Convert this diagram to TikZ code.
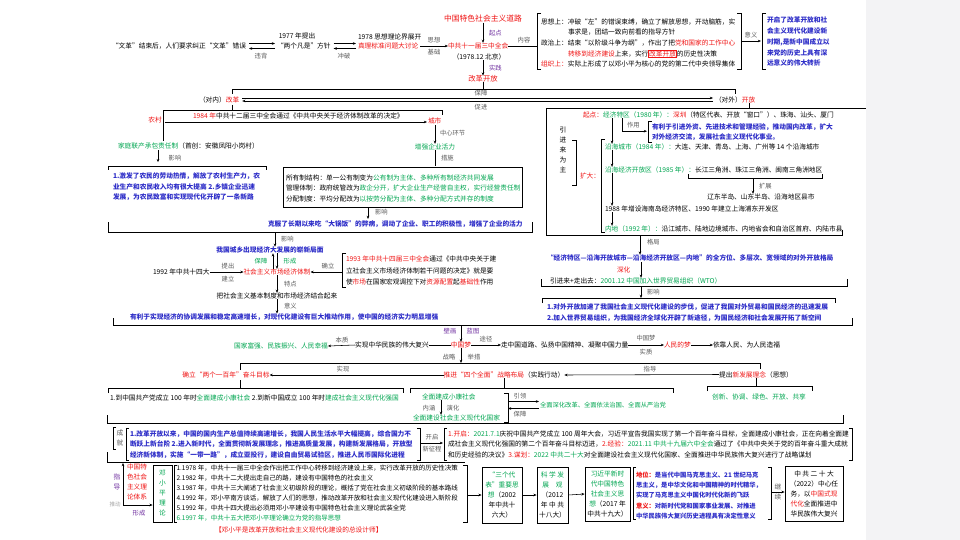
\documentclass[tikz,border=0pt]{standalone}
\usepackage{fontspec}
\setmainfont{Noto Sans CJK SC}
\usetikzlibrary{arrows.meta,calc}
\definecolor{cr}{HTML}{F01414}
\definecolor{cg}{HTML}{00A651}
\definecolor{cb}{HTML}{2D2DC8}
\definecolor{cp}{HTML}{7030A0}
\definecolor{cl}{HTML}{5A5A5A}
\definecolor{panel}{HTML}{F3F3F5}
\newcommand\fs{\fontsize{6.7}{8}\selectfont}
\newcommand\fsl{\fontsize{6.3}{7.5}\selectfont}
\newcommand\fsb{\fontsize{7.8}{9}\selectfont}
\newcommand\fsm{\fontsize{7.3}{8.5}\selectfont}
\newcommand\fsv{\fontsize{6.7}{10}\selectfont}
\newcommand\fss{\fontsize{6.3}{8}\selectfont}
\newcommand\fsq{\fontsize{6.5}{8}\selectfont}
\begin{document}
\begin{tikzpicture}[x=1pt,y=-1pt,
  base/.style={inner sep=0pt,outer sep=0pt,font=\fs},
  tx/.style={base,anchor=west},
  lb/.style={inner sep=0pt,outer sep=0pt,font=\fsl,text=cl},
  blu/.style={text=cb,font=\fs\bfseries},
  blusm/.style={text=cb,font=\fss\bfseries},
  arr/.style={-{Stealth[length=3.2pt,width=2.6pt]},line width=0.55pt},
  ln/.style={line width=0.55pt},
  brk/.style={line width=0.65pt},
  vbox/.style={draw,line width=0.8pt,inner sep=0pt,align=center,font=\fsv}]
\useasboundingbox (0,0) rectangle (960,540);
\fill[white] (0,0) rectangle (960,540);
\fill[panel] (866,0) rectangle (960,540);

% ---------------- row 1
\node[tx] (wg) at (112,46) {“文革”结束后，人们要求纠正“文革”错误};
\node[tx] (lg) at (277,46) {“两个凡是”方针};
\draw[arr] ($(wg.east)+(3,-2.5)$) -- ($(lg.west)+(-2,-2.5)$);
\draw[arr] ($(lg.west)+(-2,2.5)$) -- ($(wg.east)+(3,2.5)$);
\node[lb] (l1) at (261,56) {违背};
\node[base] (y77) at (297,36) {1977 年提出};
\node[tx] (y78) at (358,37) {1978 思想理论界展开};
\node[tx,text=cr] (zl) at (358,46) {真理标准问题大讨论};
\draw[arr] ($(lg.east)+(3,-2.5)$) -- ($(zl.west)+(-2,-2.5)$);
\draw[arr] ($(zl.west)+(-2,2.5)$) -- ($(lg.east)+(3,2.5)$);
\node[lb] (l2) at (344,56) {冲破};
\node[tx,text=cr] (sz) at (448,46) {中共十一届三中全会};
\draw[arr] ($(zl.east)+(2,0)$) -- (sz.west);
\node[lb] (l3) at (434,40) {思想};
\node[lb] (l4) at (434,52) {基础};
\node[base,text=cr,font=\fsb] (dl) at (483,19) {中国特色社会主义道路};
\draw[arr] (dl.south) -- (dl.south |- sz.north);
\node[tx,text=cp,font=\fsl] (l5) at (489,33) {起点};
\node[base] (sz2) at (479,57) {（1978.12 北京）};
\node[base,text=cr,font=\fsm] (kf) at (483,79) {改革开放};
\draw[arr] (sz2.south -| kf.north) -- (kf.north);
\node[tx,text=cp,font=\fsl] (l6) at (489,68) {实践};
\coordinate (b1l) at (537,46);
\draw[ln] (sz.east) -- (b1l);
\node[lb] (l7) at (524,40) {内容};
\draw[brk] (541,13) -- (537,13) -- (537,69) -- (541,69);
\node[tx] (c1) at (541,22) {思想上：冲破“左”的错误束缚，确立了解放思想，开动脑筋，实};
\node[tx] (c2) at (568,32.5) {事求是，团结一致向前看的指导方针};
\node[tx] (c3) at (541,43) {政治上：结束“以阶级斗争为纲”，作出了把{\color{cr}党和国家的工作中心}};
\node[tx] (c4) at (568,53.5) {{\color{cr}转移到经济建设}上来，实行{\color{cr}\fboxsep=0.4pt\fboxrule=0.4pt\fbox{改革开放}}的历史性决策};
\node[tx] (c5) at (541,64) {{\color{cr}组织上：}实际上形成了以邓小平为核心的党的第二代中央领导集体};
\draw[brk] (737,13) -- (741,13) -- (741,69) -- (737,69);
\coordinate (yy1) at (741,41);
\coordinate (yy2) at (761,41);
\draw[arr] (yy1) -- (yy2);
\node[lb] (l8) at (751,35) {意义};
\draw[brk] (766,13) -- (762,13) -- (762,69) -- (766,69);
\node[tx,blu] (m1) at (767,20) {开启了改革开放和社};
\node[tx,blu] (m2) at (767,31) {会主义现代化建设新};
\node[tx,blu] (m3) at (767,42) {时期,是新中国成立以};
\node[tx,blu] (m4) at (767,52.5) {来党的历史上具有深};
\node[tx,blu] (m5) at (767,63) {远意义的伟大转折};

% ---------------- row 2
\coordinate (r2) at (483,89);
\draw[ln] (kf.south) -- (r2);
\draw[ln] (232,94) -- (232,89) -- (735,89) -- (735,94);
\node[tx] (gg) at (199,99.5) {（对内）{\color{cr}改革}};
\node[tx] (kfang) at (715,99.5) {（对外）{\color{cr}开放}};
\draw[arr] ($(gg.east)+(3,-1.5)$) -- ($(kfang.west)+(-2,-1.5)$);
\draw[arr] ($(kfang.west)+(-2,1.5)$) -- ($(gg.east)+(3,1.5)$);
\node[lb] (l9) at (481,93.5) {保障};
\node[lb] (l10) at (481,107) {促进};

% ---------------- left: reform
\draw[ln] (232,105) -- (232,110);
\draw[ln] (163,141) -- (163,110) -- (442,110) -- (442,115);
\node[base,text=cr] (nc) at (155,120) {农村};
\node[tx,text=cr] (cs) at (428,121) {城市};
\node[tx] (jd) at (193,116) {{\color{cr}1984 年}中共十二届三中全会通过《中共中央关于经济体制改革的决定》};
\draw[arr] ($(nc.east)+(3,2)$) -- ($(cs.west)+(-1,1)$);
\node[tx] (jt) at (118,146) {{\color{cg}家庭联产承包责任制}（首创：安徽凤阳小岗村）};
\draw[arr] ($(jt.south west)+(40,1)$) -- ++(0,12);
\node[lb] (l11) at (175,158) {影响};
\draw[brk] (108,170) -- (108,166) -- (266,166) -- (266,170);
\node[tx,blu] (n1) at (113,176.5) {1.激发了农民的劳动热情，解放了农村生产力，农};
\node[tx,blu] (n2) at (113,187) {业生产和农民收入均有很大提高 2.乡镇企业迅速};
\node[tx,blu] (n3) at (113,197.5) {发展，为农民致富和实现现代化开辟了一条新路};

\node[base,text=cg] (zq) at (435,147) {增强企业活力};
\draw[arr] ($(cs.south west)+(7,1)$) -- (zq.north);
\node[lb,anchor=west] (l12) at (440,133) {中心环节};
\draw[ln] (zq.south) -- ++(0,16);
\node[lb,anchor=west] (l13) at (441,158) {措施};
\draw[brk] (283,167) rectangle (522,207);
\node[tx] (s1) at (286,178) {所有制结构：单一公有制变为{\color{cg}公有制为主体、多种所有制经济共同发展}};
\node[tx] (s2) at (286,188.5) {管理体制：政府统管改为{\color{cg}政企分开，扩大企业生产经营自主权，实行经营责任制}};
\node[tx] (s3) at (286,199) {分配制度：平均分配改为{\color{cg}以按劳分配为主体、多种分配方式并存的制度}};
\coordinate (sx) at (368,207);
\draw[arr] (sx) -- ++(0,12);
\node[lb,anchor=west] (l14) at (375,212) {影响};
\node[tx,blu] (kb) at (268,224) {克服了长期以来吃“大锅饭”的弊病，调动了企业、职工的积极性，增强了企业的活力};
\draw[brk] (108,222) -- (108,232) -- (532,232) -- (532,222);

\coordinate (bx) at (275,232);
\node[base,blu] (cx) at (270,250) {我国城乡出现经济大发展的崭新局面};
\draw[arr] (bx) -- (bx |- cx.north);
\node[lb,anchor=west] (l15) at (281,239) {影响};
\node[base,text=cr] (sc) at (277,272) {社会主义市场经济体制};
\draw[arr] ($(sc.north)+(-4,0)$) -- ($(cx.south)+(3,0)$);
\draw[arr] ($(cx.south)+(7,0)$) -- (sc.north);
\node[base,text=cg,font=\fsl] (l16) at (261,261) {保障};
\node[base,text=cg,font=\fsl] (l17) at (290,261) {形成};
\node[tx] (y92) at (153,272) {1992 年中共十四大};
\draw[arr] (y92.east) -- (sc.west);
\node[lb] (l18) at (228,266) {提出};
\node[lb] (l19) at (228,279) {建立};
\draw[brk] (346,253) -- (342,253) -- (342,287) -- (346,287);
\node[tx] (d1) at (346,259) {{\color{cr}1993 年中共十四届三中全会}通过《中共中央关于建};
\node[tx] (d2) at (346,270.5) {立社会主义市场经济体制若干问题的决定》就是要};
\node[tx] (d3) at (346,282) {使{\color{cr}市场}在国家宏观调控下对{\color{cr}资源配置}起{\color{cr}基础性}作用};
\coordinate (d0) at (342,272);
\draw[arr] (d0) -- (sc.east);
\node[lb] (l20) at (328,266) {确立};
\node[base] (jh) at (277,296) {把社会主义基本制度和市场经济结合起来};
\draw[arr] (sc.south) -- (jh.north);
\node[lb,anchor=west] (l21) at (284,284) {特点};
\node[tx,blu] (yl) at (130,317) {有利于实现经济的协调发展和稳定高速增长，对现代化建设有巨大推动作用，使中国的经济实力明显增强};
\draw[arr] (jh.south) -- (jh.south |- yl.north);
\node[lb,anchor=west] (l22) at (284,306) {意义};
\draw[brk] (113,318) -- (113,325) -- (852,325) -- (852,318);

% ---------------- right: opening
\coordinate (kfd) at (749,108);
\draw[ln] ($(kfang.south west)+(34,0)$) -- (kfd);
\draw[brk] (546,235) -- (546,108) -- (866,108);
\draw[brk] (546,235) -- (842,235) -- (842,230);
\node[base,align=center,font=\fsv] (yjl) at (563,150) {引\\进\\来\\为\\主};
\draw[brk] (572,140) -- (576,140) -- (576,185) -- (572,185);
\node[tx,text=cr] (kd) at (580,176) {扩大：};
\draw[brk] (605,139) -- (601,139) -- (601,232) -- (605,232);
\node[tx] (qd) at (583,115) {{\color{cr}起点：}{\color{cg}经济特区（1980 年）：}{\color{cr}深圳}（特区代表、开放“窗口”）、珠海、汕头、厦门};
\coordinate (tl) at (612,0);
\node[tx] (yh1) at (605,147) {{\color{cg}沿海城市（1984 年）：}大连、天津、青岛、上海、广州等 14 个沿海城市};
\node[tx] (yh2) at (605,170) {{\color{cg}沿海经济开放区（1985 年）：}长江三角洲、珠江三角洲、闽南三角洲地区};
\node[tx] (hn) at (605,209) {1988 年增设海南岛经济特区、1990 年建立上海浦东开发区};
\node[tx] (nd) at (605,229) {{\color{cg}内地（1992 年）：}沿江城市、陆地边境城市、内地省会和自治区首府、内陆市县};
\draw[arr] (qd.south -| tl) -- (yh1.north -| tl);
\draw[arr] (yh1.south -| tl) -- (yh2.north -| tl);
\draw[arr] (yh2.south -| tl) -- (hn.north -| tl);
\draw[arr] (hn.south -| tl) -- (nd.north -| tl);
\coordinate (zyx) at (622,0);
\draw[arr] (qd.south -| zyx) -- ++(0,13) -- ++(25,0);
\node[lb,anchor=west] (l23) at (627,125.5) {作用};
\draw[brk] (652,121) -- (648,121) -- (648,142) -- (652,142);
\node[tx,blu] (zy1) at (652,127) {有利于引进外资、先进技术和管理经验，推动国内改革，扩大};
\node[tx,blu] (zy2) at (652,137.5) {对外经济交流，发展社会主义现代化事业。};
\draw[brk] (688,174) -- (688,178) -- (822,178) -- (822,174);
\node[base] (ld) at (761,197) {辽东半岛、山东半岛、沿海地区县市};
\coordinate (kz) at (753,178);
\draw[arr] (kz) -- (kz |- ld.north);
\node[lb,anchor=west] (l24) at (759,186) {扩展};
\coordinate (gjt) at (640,235);
\node[tx,blu] (qm) at (547,258) {“经济特区—沿海开放城市—沿海经济开放区—内地”的全方位、多层次、宽领域的对外开放格局};
\draw[arr] (gjt) -- (gjt |- qm.north);
\node[lb,anchor=west] (l25) at (647,242) {格局};
\node[tx,text=cr] (sh) at (617,270) {深化};
\node[tx] (yj) at (550,281) {引进来+走出去：{\color{cg}2001.12 中国加入世界贸易组织（WTO）}};
\coordinate (shx) at (641,262);
\draw[arr] (shx) -- (shx |- yj.north);
\draw[brk] (541,279) -- (541,286) -- (847,286) -- (847,279);
\coordinate (yxx) at (641,286);
\draw[arr] (yxx) -- ++(0,12);
\node[lb,anchor=west] (l26) at (647,292) {影响};
\draw[brk] (542,303) -- (542,298) -- (835,298) -- (835,303);
\node[tx,blu] (dw1) at (547,307) {1.对外开放加速了我国社会主义现代化建设的步伐，促进了我国对外贸易和国民经济的迅速发展};
\node[tx,blu] (dw2) at (547,318) {2.加入世界贸易组织，为我国经济全球化开辟了新途径，为国民经济和社会发展开拓了新空间};

% ---------------- middle: Chinese dream
\coordinate (bh) at (461,325);
\node[base,text=cr] (zgm) at (461,345) {中国梦};
\draw[arr] (bh) -- (zgm.north);
\node[base,text=cp,font=\fsl] (l27) at (450,331) {壁画};
\node[base,text=cp,font=\fsl] (l28) at (473,331) {蓝图};
\node[base] (fx) at (392,345) {实现中华民族的伟大复兴};
\draw[ln] (fx.east) -- (zgm.west);
\node[base,text=cg] (gj) at (281,346) {国家富强、民族振兴、人民幸福};
\draw[arr] (fx.west) -- (gj.east);
\node[lb] (l29) at (342,340) {本质};
\node[tx] (zl2) at (501,345) {走中国道路、弘扬中国精神、凝聚中国力量};
\draw[arr] (zgm.east) -- (zl2.west);
\node[lb] (l30) at (486,339) {途径};
\node[tx,text=cr] (rm) at (664,345) {人民的梦};
\draw[arr] (zl2.east) -- (rm.west);
\node[lb] (l31) at (646,338) {中国梦};
\node[lb] (l32) at (646,352) {实质};
\node[tx] (yk) at (713,345) {依靠人民、为人民造福};
\draw[arr] (rm.east) -- (yk.west);
\node[lb] (l33) at (449,357) {战略};
\node[lb] (l34) at (474,357) {举措};
\coordinate (zl3) at (461,363);
\draw[arr] (zgm.south) -- (zl3);
\draw[ln] (240,370) -- (240,363) -- (760,363) -- (760,369);
\node[base,text=cr] (ql) at (226,375) {确立“两个一百年”奋斗目标};
\node[base] (tj) at (504,375) {{\color{cr}推进“四个全面”战略布局}（实践行动）};
\node[base] (tc) at (756,374.5) {提出{\color{cr}新发展理念}（思想）};
\draw[arr] (tj.west) -- (ql.east);
\draw[arr] (tc.west) -- (tj.east);
\node[lb] (l35) at (343,369) {实现};
\node[lb] (l36) at (650,369) {指导};
\draw[ln] (240,380) -- (240,388);
\draw[brk] (108,393) -- (108,388) -- (403,388) -- (403,393);
\node[tx] (mb) at (110,398) {1.到中国共产党成立 100 年时{\color{cg}全面建成小康社会} 2.到新中国成立 100 年时{\color{cg}建成社会主义现代化强国}};
\coordinate (tjb) at (504,388);
\draw[ln] (tj.south) -- (tjb);
\draw[brk] (410,393) -- (410,388) -- (673,388) -- (673,393);
\node[tx,text=cg] (xk) at (422,397) {全面建成小康社会};
\node[tx,text=cg] (xd) at (413,418) {全面建设社会主义现代化国家};
\coordinate (nhx) at (441,0);
\draw[arr] (xk.south -| nhx) -- (xd.north -| nhx);
\node[lb] (l37) at (429,408) {内涵};
\node[lb] (l38) at (453,408) {演化};
\draw[brk] (504,393) -- (508,393) -- (508,422) -- (504,422);
\node[tx,text=cg,font=\fss] (sg) at (540,405) {全面深化改革、全面依法治国、全面从严治党};
\coordinate (yla) at (508,401.5);
\coordinate (ylb) at (508,408.5);
\draw[arr] (yla) -- ($(sg.west)+(-1,-3.5)$);
\draw[arr] ($(sg.west)+(-1,3.5)$) -- (ylb);
\node[lb] (l39) at (520,396) {引领};
\node[lb] (l40) at (520,414) {保障};
\coordinate (tcb) at (756,386);
\draw[ln] (tc.south) -- (tcb);
\draw[brk] (707,391) -- (707,386) -- (812,386) -- (812,391);
\node[base,text=cg] (cx5) at (759,397) {创新、协调、绿色、开放、共享};
\draw[brk] (107,415) -- (107,423) -- (843,423) -- (843,415);

% ---------------- achievements
\node[lb,align=center,font=\fsv] (cj) at (120,438) {成\\就};
\draw[brk] (116,427) -- (113,427) -- (113,449) -- (116,449);
\draw[brk] (129,428) -- (126,428) -- (126,460) -- (129,460);
\draw[brk] (417,428) -- (420,428) -- (420,460) -- (417,460);
\node[tx,blu] (a1) at (130,434) {1.改革开放以来，中国的国内生产总值持续高速增长，我国人民生活水平大幅提高，综合国力不};
\node[tx,blu] (a2) at (130,444.5) {断跃上新台阶 2.进入新时代，全面贯彻新发展理念，推进高质量发展，构建新发展格局，开放型};
\node[tx,blu] (a3) at (130,455) {经济新体制，实施“一带一路”，成立亚投行，建设自由贸易试验区，推进人民币国际化进程};
\draw[ln] (107,452) -- (107,462) -- (465,462);
\node[lb] (l41) at (432,437.5) {开启};
\node[lb] (l42) at (432,449) {新征程};
\coordinate (kqa) at (420,443);
\coordinate (kqb) at (443,443);
\draw[arr] (kqa) -- (kqb);
\draw[brk] (447,428) -- (444,428) -- (444,460) -- (447,460);
\draw[brk] (849,428) -- (852,428) -- (852,460) -- (849,460);
\node[tx] (k1) at (448,434) {{\color{cr}1.开启：}{\color{cg}2021.7.1}庆祝中国共产党成立 100 周年大会，习近平宣告我国实现了第一个百年奋斗目标，全面建成小康社会，正在向着全面建};
\node[tx] (k2) at (448,444.5) {成社会主义现代化强国的第二个百年奋斗目标迈进，{\color{cr}2.经验：}{\color{cg}2021.11 中共十九届六中全会}通过了《中共中央关于党的百年奋斗重大成就};
\node[tx] (k3) at (448,455) {和历史经验的决议》{\color{cr}3.谋划：}{\color{cg}2022 中共二十大}对全面建设社会主义现代化国家、全面推进中华民族伟大复兴进行了战略谋划};

% ---------------- theory
\node[base,align=center,font=\fsv,text=cp] (zd) at (117,482) {指\\导};
\node[base,align=left,font=\fsv,text=cr,anchor=north west] (lt) at (127,463.5) {中国特\\色社会\\主义理\\论体系};
\node[vbox,text=cg,minimum width=19pt,minimum height=57pt] (dxp) at (162.5,493.5) {邓\\小\\平\\理\\论};
\coordinate (zdc) at (123,505);
\coordinate (zdt) at (123,463);
\draw[arr] (zdc) -- (zdt);
\draw[arr] (zdc) -- (dxp.west |- zdc);
\node[lb,text=black!35,font=\fontsize{5.5}{6}\selectfont] (td) at (115,504) {推动};
\node[base,text=cp,font=\fsl] (xc) at (139,513) {形成};
\draw[brk] (177,465) -- (174,465) -- (174,522) -- (177,522);
\node[tx,font=\fsq] (p1) at (176.5,468) {1.1978 年，中共十一届三中全会作出把工作中心转移到经济建设上来，实行改革开放的历史性决策};
\node[tx,font=\fsq] (p2) at (176.5,478.5) {2.1982 年，中共十二大提出走自己的路，建设有中国特色的社会主义};
\node[tx,font=\fsq] (p3) at (176.5,488.5) {3.1987 年，中共十三大阐述了社会主义初级阶段的理论，概括了党在社会主义初级阶段的基本路线};
\node[tx,font=\fsq] (p4) at (176.5,498.5) {4.1992 年，邓小平南方谈话，解放了人们的思想，推动改革开放和社会主义现代化建设进入新阶段};
\node[tx,font=\fsq] (p5) at (176.5,508.5) {5.1992 年，中共十四大提出必须用邓小平建设有中国特色社会主义理论武装全党};
\node[tx,font=\fsq,text=cg] (p6) at (176.5,518.5) {6.1997 年，中共十五大把邓小平理论确立为党的指导思想};
\draw[brk] (463,465) -- (467,465) -- (467,522) -- (463,522);
\node[tx,text=cr] (zs) at (215,530) {【邓小平是改革开放和社会主义现代化建设的总设计师】};
\node[vbox,minimum width=40pt,minimum height=56pt] (b1) at (502,495) {{\color{cg}“三个代}\\{\color{cg}表”重要思}\\{\color{cg}想}（2002\\年中共十\\六大）};
\coordinate (lr) at (467,495);
\draw[arr] (lr) -- (b1.west);
\node[vbox,minimum width=31pt,minimum height=56pt] (b2) at (552.5,495) {{\color{cg}科 学 发}\\{\color{cg}展　观}\\（2012\\年 中 共\\十八大）};
\draw[arr] (b1.east) -- (b2.west);
\node[vbox,minimum width=45pt,minimum height=54pt] (b3) at (607.5,494) {{\color{cg}习近平新时}\\{\color{cg}代中国特色}\\{\color{cg}社会主义思}\\{\color{cg}想}（2017 年\\中共十九大）};
\draw[arr] (b2.east) -- (b3.west);
\draw[brk] (636,467) -- (633,467) -- (633,519) -- (636,519);
\draw[brk] (768,467) -- (771,467) -- (771,519) -- (768,519);
\node[tx,blusm] (w1) at (636,475) {{\color{cr}地位：}是当代中国马克思主义、21 世纪马克};
\node[tx,blusm] (w2) at (636,485) {思主义，是中华文化和中国精神的时代精华，};
\node[tx,blusm] (w3) at (636,495.5) {实现了马克思主义中国化时代化新的飞跃};
\node[tx,blusm] (w4) at (636,506) {{\color{cr}意义：}对新时代党和国家事业发展、对推进};
\node[tx,blusm] (w5) at (636,516) {中华民族伟大复兴历史进程具有决定性意义};
\node[lb,align=center,font=\fsv] (jx) at (778,492) {继\\续};
\node[vbox,minimum width=58pt,minimum height=55pt] (b4) at (814,493.5) {中 共 二 十 大\\（2022）中心任\\务，以{\color{cr}中国式现}\\{\color{cr}代化}全面推进中\\华民族伟大复兴};
\coordinate (jxs) at (771,492);
\draw[arr] (jxs) -- (b4.west |- jxs);
\end{tikzpicture}
\end{document}
